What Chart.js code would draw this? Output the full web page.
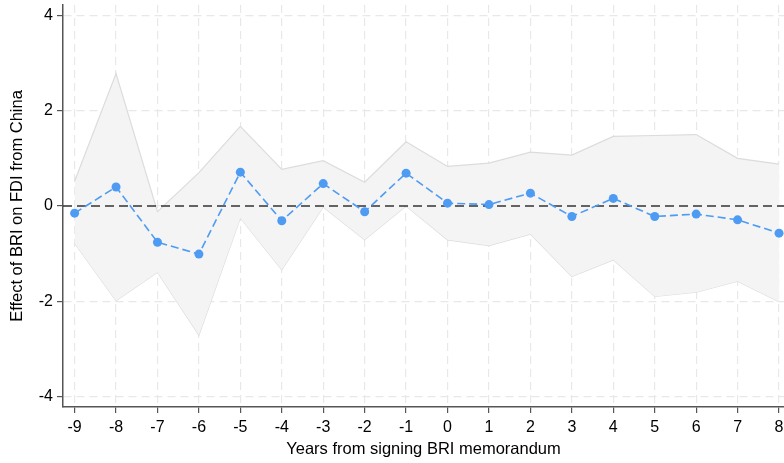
<!DOCTYPE html>
<html>
<head>
<meta charset="utf-8">
<script src="https://cdn.jsdelivr.net/npm/chart.js@4.4.0/dist/chart.umd.min.js"></script>
<style>
  html, body { margin: 0; padding: 0; background: #fff; }
  #wrap { width: 784px; height: 463px; }
</style>
</head>
<body>
<div id="wrap"><canvas id="esChart"></canvas></div>
<script>
// Event-study estimates, years relative to signing
const years = [-9, -8, -7, -6, -5, -4, -3, -2, -1, 0, 1, 2, 3, 4, 5, 6, 7, 8];
const estimate = [-0.15, 0.40, -0.76, -1.01, 0.71, -0.31, 0.47, -0.12, 0.69, 0.06, 0.03, 0.27, -0.22, 0.16, -0.22, -0.17, -0.29, -0.57];
const ciUpper = [0.52, 2.78, -0.12, 0.70, 1.67, 0.77, 0.95, 0.50, 1.35, 0.83, 0.90, 1.13, 1.07, 1.46, 1.48, 1.50, 1.00, 0.88];
const ciLower = [-0.78, -1.99, -1.39, -2.71, -0.25, -1.34, -0.02, -0.71, 0.00, -0.71, -0.83, -0.59, -1.48, -1.13, -1.90, -1.81, -1.58, -2.01];
const yTicks = [-4, -2, 0, 2, 4];

const toPoints = vals => vals.map((v, i) => ({ x: years[i], y: v }));

// dashed reference line at zero, drawn over the band but under the estimates
const zeroLine = {
    id: 'zeroLine',
    afterDatasetDraw(chart, args) {
        if (args.index !== 1) return;
        const { ctx, chartArea, scales } = chart;
        const y = scales.y.getPixelForValue(0);
        ctx.save();
        ctx.strokeStyle = '#333';
        ctx.lineWidth = 1.5;
        ctx.setLineDash([9, 5]);
        ctx.beginPath();
        ctx.moveTo(chartArea.left, y);
        ctx.lineTo(chartArea.right, y);
        ctx.stroke();
        ctx.restore();
    }
};

Chart.defaults.font.family = '"Liberation Sans", Arial, sans-serif';
Chart.defaults.color = '#000';

const gridOpts = {
    color: '#e8e8e8',
    lineWidth: 1.2,
    tickBorderDash: [],
    tickColor: '#555',
    tickLength: 6,
    tickWidth: 1.2
};

new Chart(document.getElementById('esChart'), {
    type: 'line',
    data: {
        datasets: [
            {
                label: 'Estimate',
                data: toPoints(estimate),
                borderColor: '#4d9bf3',
                backgroundColor: '#4d9bf3',
                borderWidth: 1.6,
                borderDash: [8, 4],
                pointRadius: 4.5,
                pointBorderWidth: 0,
                tension: 0,
                fill: false
            },
            {
                label: 'Upper',
                data: toPoints(ciUpper),
                borderColor: '#dcdcdc',
                backgroundColor: '#f4f4f4',
                borderWidth: 1.2,
                pointRadius: 0,
                tension: 0,
                fill: '+1'
            },
            {
                label: 'Lower',
                data: toPoints(ciLower),
                borderColor: '#dcdcdc',
                borderWidth: 1.2,
                pointRadius: 0,
                tension: 0,
                fill: false
            }
        ]
    },
    options: {
        responsive: true,
        maintainAspectRatio: false,
        animation: false,
        layout: { autoPadding: false, padding: { top: 5, right: 0, left: 0, bottom: 0 } },
        plugins: {
            legend: { display: false },
            tooltip: { enabled: false }
        },
        scales: {
            x: {
                type: 'linear',
                min: -9.28,
                max: 8.12,
                afterBuildTicks: axis => { axis.ticks = years.map(v => ({ value: v })); },
                afterFit: axis => {
                    axis.height = 56;
                    axis.paddingLeft = 0;
                    axis.paddingRight = 0;
                },
                ticks: {
                    autoSkip: false,
                    maxRotation: 0,
                    padding: 5,
                    font: { size: 16 },
                    callback: v => String(v)
                },
                grid: gridOpts,
                border: { color: '#555', width: 1.5, dash: [8, 5] },
                title: {
                    display: true,
                    text: 'Years from signing BRI memorandum',
                    font: { size: 16.5 },
                    padding: { top: 0, bottom: 4 }
                }
            },
            y: {
                min: -4.22,
                max: 4.22,
                afterBuildTicks: axis => { axis.ticks = yTicks.map(v => ({ value: v })); },
                afterFit: axis => {
                    axis.width = 63;
                    axis.paddingTop = 0;
                    axis.paddingBottom = 0;
                },
                ticks: {
                    padding: 4,
                    font: { size: 16 },
                    callback: v => String(v)
                },
                grid: gridOpts,
                border: { color: '#555', width: 1.5, dash: [8, 5] },
                title: {
                    display: true,
                    text: 'Effect of BRI on FDI from China',
                    font: { size: 16.5 },
                    padding: { top: 8, bottom: 0 }
                }
            }
        }
    },
    plugins: [zeroLine]
});
</script>
</body>
</html>
